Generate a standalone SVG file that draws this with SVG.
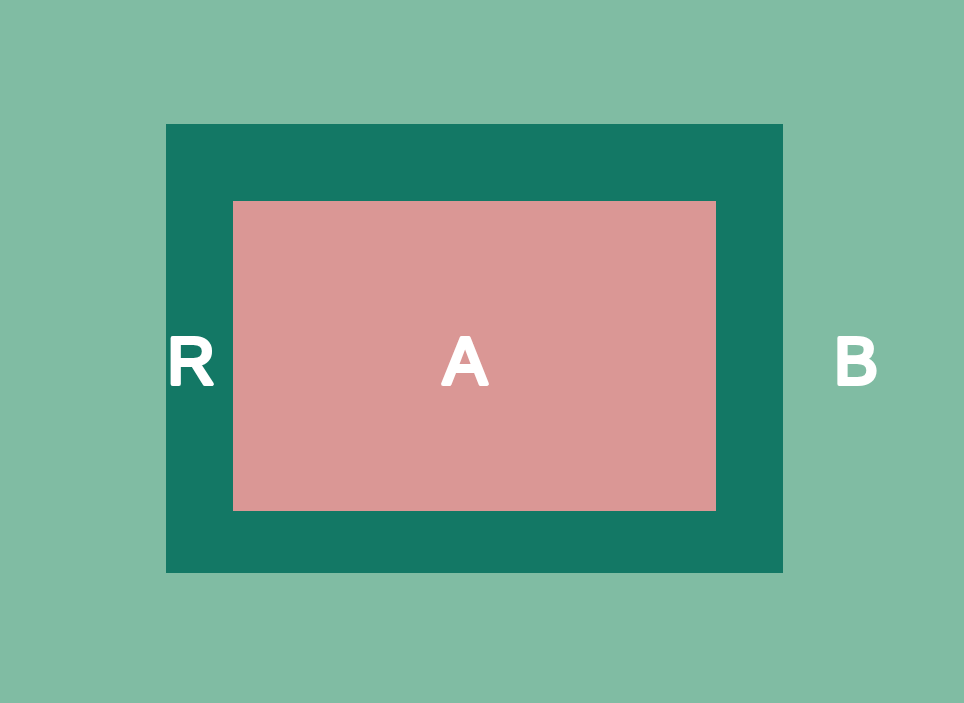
<svg xmlns="http://www.w3.org/2000/svg" width="964" height="703" viewBox="0 0 964 703">
<style>
.lbl{font-family:"Liberation Sans",Arial,sans-serif;font-weight:normal;font-size:66px;fill:#fff;stroke:#fff;stroke-width:4;stroke-linejoin:round;stroke-linecap:round;text-anchor:middle}
</style>
<rect id="background" x="0" y="0" width="964" height="703" fill="#80bca3"/>
<g id="B"><text class="lbl" x="856" y="384">B</text></g>
<g id="R"><rect x="166" y="124" width="617" height="449" fill="#137865"/><text class="lbl" x="191" y="384">R</text></g>
<g id="A"><rect x="233" y="201" width="483" height="310" fill="#da9795"/><text class="lbl" x="465" y="384">A</text></g>
<g id="connectors"/>
</svg>
